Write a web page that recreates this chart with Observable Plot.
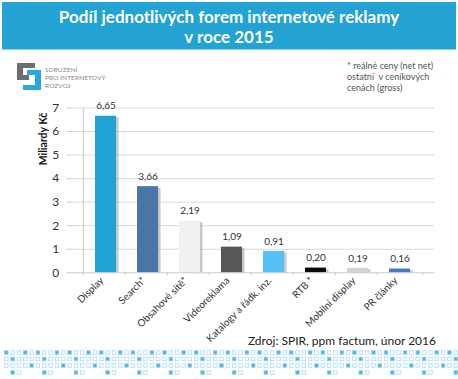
<!DOCTYPE html>
<html>
<head>
<meta charset="utf-8">
<script src="https://cdn.jsdelivr.net/npm/d3@7"></script>
<script src="https://cdn.jsdelivr.net/npm/@observablehq/plot@0.6"></script>
<style>
  html, body { margin: 0; padding: 0; background: #fff; }
  #wrap { position: relative; width: 458px; height: 379px; overflow: hidden; font-family: Lato, "Open Sans", sans-serif; }
  #wrap > * { position: absolute; }
  #banner { left: 2px; top: 2px; width: 454px; height: 48px; background: #22a3d3; border-bottom: 1px solid #8fd0ea;
            color: #fff; font-weight: bold; font-size: 17px; line-height: 20px; text-align: center; padding-top: 5px; box-sizing: border-box; }
  #note { left: 347px; top: 60px; font-size: 9px; line-height: 11px; color: #555; }
  #logotext { left: 45px; top: 66px; font-size: 6.5px; line-height: 8px; color: #888; letter-spacing: 0.1px; }
  #source { right: 22px; top: 333px; font-size: 12px; color: #222; }
</style>
</head>
<body>
<div id="wrap"></div>
<script>
// ---- data ----
const categories = ["Display", "Search*", "Obsahové sítě*", "Videoreklama", "Katalogy a řádk. inz.", "RTB *", "Mobilní display", "PR články"];
const values = [6.65, 3.66, 2.19, 1.09, 0.91, 0.20, 0.19, 0.16];
const labels = ["6,65", "3,66", "2,19", "1,09", "0,91", "0,20", "0,19", "0,16"];
const colors = ["#21a3d5", "#4a77a7", "#f1f1f1", "#575757", "#55c0f7", "#0a0a0a", "#d2d2d2", "#4a78b8"];
const yTicks = [0, 1, 2, 3, 4, 5, 6, 7];

const data = categories.map((c, i) => ({cat: c, v: values[i], label: labels[i], color: colors[i]}));

const W = 458, H = 379;
const mL = 71.7, mR = W - 434, mT = 107.5, mB = H - 272.3;
const step = (W - mL - mR) / categories.length;

const plot = Plot.plot({
  width: W, height: H,
  marginLeft: mL, marginRight: mR, marginTop: mT, marginBottom: mB,
  style: {fontFamily: "Lato, 'Open Sans', sans-serif", background: "transparent", overflow: "visible"},
  x: {domain: categories, padding: 0.49, label: null},
  y: {domain: [0, 7], ticks: yTicks, label: null},
  marks: [
    Plot.gridY(yTicks.filter(t => t > 0), {stroke: "#d9d9d9", strokeOpacity: 1}),
    Plot.barY(data, {x: "cat", y: "v", fill: "#9a9a9a", fillOpacity: 0.55, dx: 2.5, insetTop: 1.5}),
    Plot.barY(data, {x: "cat", y: "v", fill: "color"}),
    Plot.ruleY([0], {stroke: "#c8c8c8"}),
    Plot.ruleX(categories, {x: d => d, y1: 0, y2: -0.13, dx: -step / 2, stroke: "#c8c8c8"}),
    Plot.ruleX(categories.slice(-1), {x: d => d, y1: 0, y2: -0.13, dx: step / 2, stroke: "#c8c8c8"}),
    Plot.ruleX(categories.slice(0, 1), {x: d => d, y1: 0, y2: 7, dx: -step / 2, stroke: "#c8c8c8"}),
    Plot.text(data, {x: "cat", y: "v", text: "label", dy: -10, fontSize: 10, fill: "#333"}),
    Plot.axisY({ticks: yTicks, tickFormat: d => String(d), tickSize: 5, tickPadding: 8, fontSize: 12, stroke: "#c8c8c8", fill: "#333"}),
    Plot.axisX({tickSize: 0, tickRotate: -45, tickPadding: 6, fontSize: 10, fill: "#333", dx: -4}),
    Plot.text(["Miliardy Kč"], {frameAnchor: "top-left", textAnchor: "middle", lineAnchor: "middle", dx: -29, dy: 31, rotate: -90, fontWeight: "bold", fontSize: 10.5, fill: "#111"})
  ]
});

const wrap = document.getElementById("wrap");
plot.style.position = "absolute";
plot.style.left = "0px";
plot.style.top = "0px";
wrap.appendChild(plot);

// banner
const banner = document.createElement("div");
banner.id = "banner";
banner.innerHTML = "Podíl jednotlivých forem internetové reklamy<br>v roce 2015";
wrap.appendChild(banner);

// note
const note = document.createElement("div");
note.id = "note";
note.innerHTML = "* reálné ceny (net net)<br>ostatní&nbsp; v ceníkových<br>cenách (gross)";
wrap.appendChild(note);

// logo text
const lt = document.createElement("div");
lt.id = "logotext";
lt.innerHTML = "SDRUŽENÍ<br>PRO INTERNETOVÝ<br>ROZVOJ";
wrap.appendChild(lt);

// source
const src = document.createElement("div");
src.id = "source";
src.textContent = "Zdroj: SPIR, ppm factum, únor 2016";
wrap.appendChild(src);

// decorative svg: logo + footer pattern
const deco = d3.create("svg").attr("width", W).attr("height", H)
  .style("position", "absolute").style("left", "0px").style("top", "0px").style("pointer-events", "none");
const g = deco.append("g");
g.append("path").attr("fill", "#6d6e71")
  .attr("d", "M17,63 H35 V68 H23 V75 H29 V80 H17 Z");
g.append("path").attr("fill", "#29a8e0")
  .attr("d", "M27,70 H41 V90 H23 V85 H35 V75 H27 Z");

// footer squares
const rowPatterns = [
  i => (i % 5 === 0 || i % 5 === 3) ? 2 : 1,
  i => (i % 5 === 1) ? 2 : 1,
  i => (i % 5 === 4) ? 2 : 1,
  i => (i % 5 === 1) ? 2 : (i % 5 === 2 ? 1 : 0)
];
const rowsY = [352.5, 359, 365.5, 372.5];
rowsY.forEach((yy, r) => {
  for (let i = 0; i < 72; i++) {
    const t = rowPatterns[r](i);
    if (!t) continue;
    g.append("rect").attr("x", 4.5 + i * 6.33).attr("y", yy - 1.8).attr("width", 3.6).attr("height", 3.6)
      .attr("fill", t === 2 ? "#4cb5ee" : "#fff").attr("stroke", t === 2 ? "#8fd0f3" : "#a9dcf5").attr("stroke-width", 0.8);
  }
});
wrap.appendChild(deco.node());
</script>
</body>
</html>
